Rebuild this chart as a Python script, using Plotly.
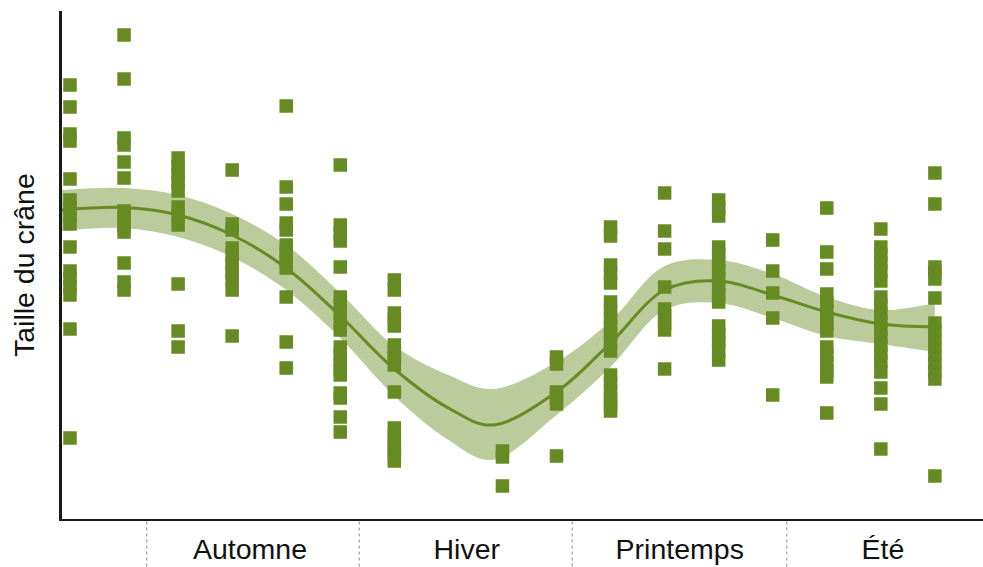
import plotly.graph_objects as go

# Saisons (étiquettes sous l'axe) et limites entre saisons, en rang de prélèvement
saisons = ["Automne", "Hiver", "Printemps", "Été"]
pos_saisons = [3.33, 7.34, 11.28, 15.04]
limites_saisons = [1.42, 5.35, 9.29, 13.26]

# Rang de chaque prélèvement et tailles de crâne mesurées (unités arbitraires)
prelevements = [0, 1, 2, 3, 4, 5, 6, 8, 9, 10, 11, 12, 13, 14, 15, 16]
tailles = [
    [43.4, 41.2, 38.5, 37.8, 34.0, 31.9, 31.1, 30.3, 29.5, 27.2, 24.8, 24.0, 23.2, 22.4, 19.0, 8.1],
    [48.4, 44.0, 38.1, 37.4, 35.7, 34.1, 30.8, 30.1, 29.4, 28.7, 25.6, 23.7, 22.9],
    [36.1, 35.3, 34.5, 33.7, 32.8, 31.2, 30.4, 29.4, 23.5, 18.8, 17.2],
    [34.9, 29.5, 28.9, 27.1, 26.3, 25.5, 24.7, 23.9, 22.9, 18.3],
    [41.3, 33.2, 31.5, 29.6, 28.9, 27.4, 26.6, 25.8, 25.1, 22.2, 17.7, 15.1],
    [35.4, 29.4, 28.6, 27.8, 25.2, 22.2, 21.4, 20.6, 19.8, 18.9, 17.2, 16.4, 15.6, 14.9, 14.4, 12.6, 12.1, 10.2, 8.7],
    [23.9, 22.9, 20.6, 20.0, 19.3, 17.4, 16.7, 16.1, 15.4, 12.7, 9.1, 8.4, 7.7, 7.1, 6.4, 5.8],
    [6.8, 6.2, 3.3],
    [16.2, 15.5, 12.7, 12.1, 11.5, 6.3],
    [29.2, 28.3, 25.4, 24.6, 23.6, 21.7, 20.9, 20.1, 19.3, 18.5, 17.7, 16.8, 14.4, 13.6, 12.8, 12.0, 11.4, 10.8],
    [32.6, 28.8, 27.0, 23.2, 21.0, 20.3, 19.6, 18.9, 15.0],
    [31.9, 31.1, 30.3, 27.2, 26.4, 25.6, 24.8, 24.0, 23.2, 22.4, 21.7, 19.3, 18.5, 17.7, 16.9, 15.9],
    [27.9, 24.8, 22.6, 20.1, 12.4],
    [31.1, 26.7, 25.0, 22.5, 21.7, 20.9, 20.1, 19.5, 18.8, 17.2, 16.4, 15.6, 14.8, 14.2, 10.6],
    [29.0, 27.2, 26.4, 25.6, 24.8, 23.8, 22.2, 21.4, 20.6, 19.8, 19.0, 18.2, 17.4, 16.6, 15.8, 14.7, 13.1, 11.5, 7.0],
    [34.6, 31.5, 25.2, 24.7, 24.0, 22.1, 19.6, 18.8, 18.0, 17.2, 16.4, 15.6, 14.8, 14.0, 4.3],
]

# Courbe de tendance lissée et son intervalle de confiance
courbe_x = [-0.15, 1, 2, 3, 4, 5, 6, 7, 7.8, 9, 10, 11, 12, 13, 14, 15, 16]
courbe_y = [30.9, 31.15, 30.4, 28.4, 25.1, 20.3, 15.0, 11.1, 9.4, 12.7, 17.6, 22.9, 23.8, 22.4, 20.7, 19.5, 19.2]
bande_haut = [32.9, 33.1, 32.4, 30.5, 27.4, 22.6, 17.3, 14.4, 13.0, 15.7, 19.8, 25.3, 25.9, 24.5, 22.2, 20.9, 21.6]
bande_bas = [28.8, 29.1, 28.2, 26.2, 22.9, 18.1, 12.3, 7.9, 5.9, 10.4, 15.2, 20.9, 21.6, 20.1, 18.3, 17.5, 16.7]

VERT = "#678B23"
VERT_CLAIR = "#BBCB9C"
POLICE = "Liberation Sans, Arial, sans-serif"

pts_x, pts_y = [], []
for rang, valeurs in zip(prelevements, tailles):
    pts_x += [rang] * len(valeurs)
    pts_y += valeurs

fig = go.Figure()
fig.add_trace(go.Scatter(x=courbe_x, y=bande_bas, mode="lines", line=dict(width=0, shape="spline"),
                         showlegend=False, hoverinfo="skip"))
fig.add_trace(go.Scatter(x=courbe_x, y=bande_haut, mode="lines", line=dict(width=0, shape="spline"),
                         fill="tonexty", fillcolor=VERT_CLAIR, showlegend=False, hoverinfo="skip"))
fig.add_trace(go.Scatter(x=courbe_x, y=courbe_y, mode="lines", line=dict(color=VERT, width=3, shape="spline"),
                         showlegend=False))
fig.add_trace(go.Scatter(x=pts_x, y=pts_y, mode="markers",
                         marker=dict(symbol="square", size=13.5, color=VERT, line=dict(width=0)),
                         showlegend=False))

for lim in limites_saisons:
    fig.add_shape(type="line", xref="x", yref="paper", x0=lim, x1=lim, y0=-0.005, y1=-0.1,
                  line=dict(color="#8a8a8a", width=1, dash="dot"))

fig.add_annotation(text="Taille du crâne", xref="paper", yref="paper", x=0, y=0.5,
                   xanchor="center", yanchor="middle", xshift=-38, textangle=-90, showarrow=False,
                   font=dict(family=POLICE, size=28.5, color="#111"))

fig.update_layout(
    width=983, height=567,
    margin=dict(l=62, r=0, t=11, b=48),
    paper_bgcolor="white", plot_bgcolor="white",
    xaxis=dict(range=[-0.148, 16.89], showgrid=False, zeroline=False,
               showline=True, linewidth=2, linecolor="#1a1a1a",
               tickvals=pos_saisons, ticktext=saisons, ticks="", ticklabelstandoff=4,
               tickfont=dict(family=POLICE, size=28.5, color="#111")),
    yaxis=dict(range=[0, 50.8], showgrid=False, zeroline=False, showticklabels=False,
               showline=True, linewidth=2.5, linecolor="#1a1a1a", ticks=""),
)

fig.write_html("out.html")
